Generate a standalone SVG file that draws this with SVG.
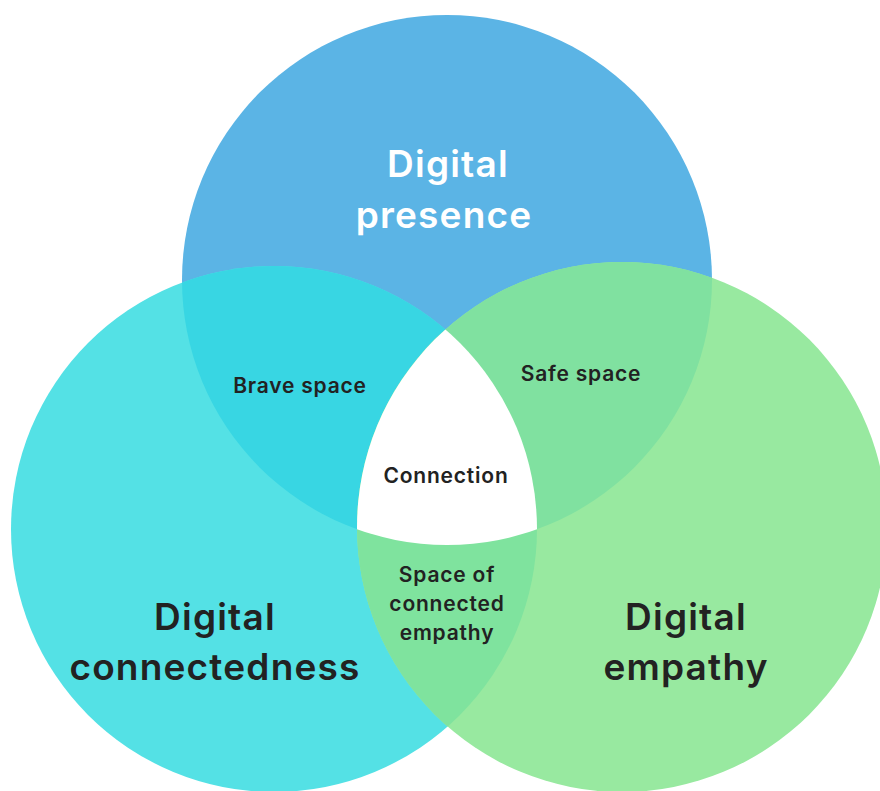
<svg xmlns="http://www.w3.org/2000/svg" width="880" height="791" viewBox="0 0 880 791">
  <style>
    .big { font-family: Inter, "Open Sans", "Liberation Sans", sans-serif; font-weight: 600; font-size: 37px; letter-spacing: 1.2px; text-anchor: middle; fill: #222222; }
    .big.light { fill: #ffffff; }
    .small { font-family: Inter, "Open Sans", "Liberation Sans", sans-serif; font-weight: 600; font-size: 21px; letter-spacing: 0.8px; text-anchor: middle; fill: #222222; }
  </style>
  <defs>
    <circle id="cTop" cx="447" cy="280" r="265"/>
    <circle id="cLeft" cx="274" cy="529" r="263"/>
    <circle id="cRight" cx="622" cy="527" r="265"/>
    <clipPath id="clipTop"><use href="#cTop"/></clipPath>
    <clipPath id="clipLeft"><use href="#cLeft"/></clipPath>
    <clipPath id="clipRight"><use href="#cRight"/></clipPath>
  </defs>
  <rect width="880" height="791" fill="#ffffff"/>

  <!-- base circles -->
  <g id="presence">
    <use href="#cTop" fill="#5BB4E5"/>
  </g>
  <g id="connectedness">
    <use href="#cLeft" fill="#54E1E5"/>
  </g>
  <g id="empathy">
    <use href="#cRight" fill="#98E9A0"/>
  </g>

  <!-- pairwise overlaps -->
  <g id="brave-space">
    <use href="#cTop" fill="#38D6E3" clip-path="url(#clipLeft)"/>
  </g>
  <g id="safe-space">
    <use href="#cTop" fill="#80E1A0" clip-path="url(#clipRight)"/>
  </g>
  <g id="connected-empathy">
    <use href="#cLeft" fill="#7FE39E" clip-path="url(#clipRight)"/>
  </g>

  <!-- triple overlap -->
  <g id="connection">
    <g clip-path="url(#clipLeft)">
      <use href="#cTop" fill="#ffffff" clip-path="url(#clipRight)"/>
    </g>
  </g>

  <!-- labels -->
  <text class="big light" x="448" y="177">Digital</text>
  <text class="big light" x="444" y="228">presence</text>

  <text class="big" x="215" y="630">Digital</text>
  <text class="big" x="215" y="680">connectedness</text>

  <text class="big" x="686" y="630">Digital</text>
  <text class="big" x="686" y="680">empathy</text>

  <text class="small" x="300" y="393">Brave space</text>
  <text class="small" x="581" y="381">Safe space</text>
  <text class="small" x="446" y="483">Connection</text>

  <text class="small" x="447" y="582">Space of</text>
  <text class="small" x="447" y="611">connected</text>
  <text class="small" x="447" y="640">empathy</text>
</svg>
